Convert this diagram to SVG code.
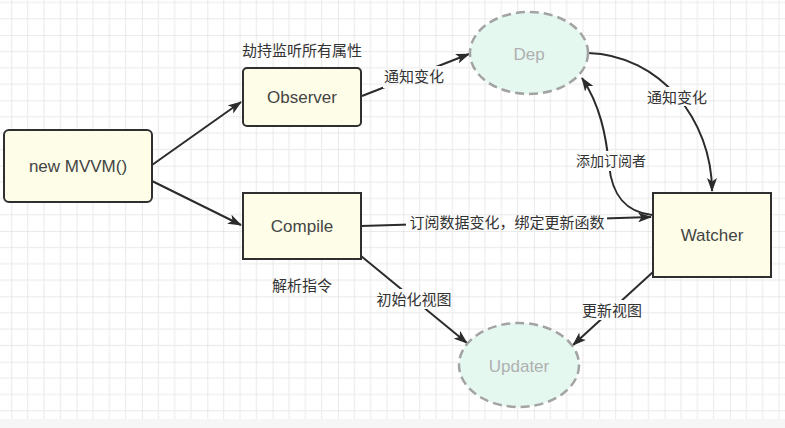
<svg xmlns="http://www.w3.org/2000/svg" width="785" height="428" viewBox="0 0 785 428">
<defs>
<pattern id="grid" patternUnits="userSpaceOnUse" x="11.3" y="-30.3" width="65.33" height="65.33">
<rect width="65.33" height="65.33" fill="#ffffff"/>
<g fill="#ececec">
<rect x="15.83" y="0" width="1.1" height="65.33"/>
<rect x="32.17" y="0" width="1.1" height="65.33"/>
<rect x="48.5" y="0" width="1.1" height="65.33"/>
<rect x="0" y="15.83" width="65.33" height="1.1"/>
<rect x="0" y="32.17" width="65.33" height="1.1"/>
<rect x="0" y="48.5" width="65.33" height="1.1"/>
</g>
<g fill="#dfdfdf">
<rect x="-0.55" y="0" width="1.2" height="65.33"/>
<rect x="0" y="-0.55" width="65.33" height="1.2"/>
</g>
</pattern>
<marker id="arr" viewBox="0 0 14 10" markerWidth="14" markerHeight="10" refX="13" refY="5" orient="auto" markerUnits="userSpaceOnUse">
<path d="M0,0 L14,5 L0,10 L3.5,5 Z" fill="#2b2b2b"/>
</marker>
<style>
.box{fill:#fdfde8;stroke:#2f2f2f;stroke-width:2}
.ell{fill:#e4f8f0;stroke:#a3a3a3;stroke-width:2.5;stroke-dasharray:9 5}
.nt{font-family:"Liberation Sans","Noto Sans CJK SC",sans-serif;font-size:17px;fill:#444;text-anchor:middle;dominant-baseline:central}
.et{font-family:"Liberation Sans","Noto Sans CJK SC",sans-serif;font-size:17px;fill:#b0b0b0;text-anchor:middle;dominant-baseline:central}
.lt{font-family:"Liberation Sans","Noto Sans CJK SC",sans-serif;font-size:15px;fill:#333;text-anchor:middle;dominant-baseline:central}
.edge{fill:none;stroke:#2b2b2b;stroke-width:2;marker-end:url(#arr)}
.lbg{fill:url(#grid)}
</style>
</defs>
<rect x="0" y="0" width="785" height="428" fill="#f6f6f6"/>
<rect x="0" y="0" width="785" height="419" fill="url(#grid)"/>

<g id="connectors">
<path class="edge" d="M152,165 L241,102"/>
<path class="edge" d="M152,181 L241,225"/>
<path class="edge" d="M362,96 L469,54"/>
<path class="edge" d="M588,53 C660,55 712,120 712,191"/>
<path class="edge" d="M652,215 C625,212 612,195 609,165 C606,135 600,105 582,78"/>
<path class="edge" d="M361,226 L651,217"/>
<path class="edge" d="M361,256 L467,343"/>
<path class="edge" d="M653,272 L573,345"/>
<rect class="lbg" x="383" y="66" width="62" height="22"/>
<text class="lt" x="414" y="76">通知变化</text>
<rect class="lbg" x="646" y="87" width="63" height="19"/>
<text class="lt" x="677" y="97">通知变化</text>
<rect class="lbg" x="576" y="151" width="71" height="20"/>
<text class="lt" x="611" y="161" style="font-size:14px">添加订阅者</text>
<rect class="lbg" x="406" y="212" width="201" height="21"/>
<text class="lt" x="507" y="222.5">订阅数据变化，绑定更新函数</text>
<rect class="lbg" x="375" y="289" width="78" height="20"/>
<text class="lt" x="414" y="299">初始化视图</text>
<rect class="lbg" x="580" y="300" width="65" height="20"/>
<text class="lt" x="612" y="310">更新视图</text>
</g>

<g id="mvvm">
<rect class="box" x="4" y="130" width="148" height="72" rx="5"/>
<text class="nt" x="78" y="166">new MVVM()</text>
</g>
<g id="observer">
<rect class="box" x="243" y="68" width="118" height="58" rx="4"/>
<text class="nt" x="302" y="97">Observer</text>
<text class="lt" x="302" y="50">劫持监听所有属性</text>
</g>
<g id="compile">
<rect class="box" x="243" y="193" width="118" height="66"/>
<text class="nt" x="302" y="226">Compile</text>
<text class="lt" x="302" y="285">解析指令</text>
</g>
<g id="dep">
<ellipse class="ell" cx="529" cy="53" rx="59" ry="41"/>
<text class="et" x="529" y="54">Dep</text>
</g>
<g id="watcher">
<rect class="box" x="653" y="193" width="118" height="84"/>
<text class="nt" x="712" y="235">Watcher</text>
</g>
<g id="updater">
<ellipse class="ell" cx="519" cy="365" rx="60" ry="42"/>
<text class="et" x="519" y="366">Updater</text>
</g>
</svg>
